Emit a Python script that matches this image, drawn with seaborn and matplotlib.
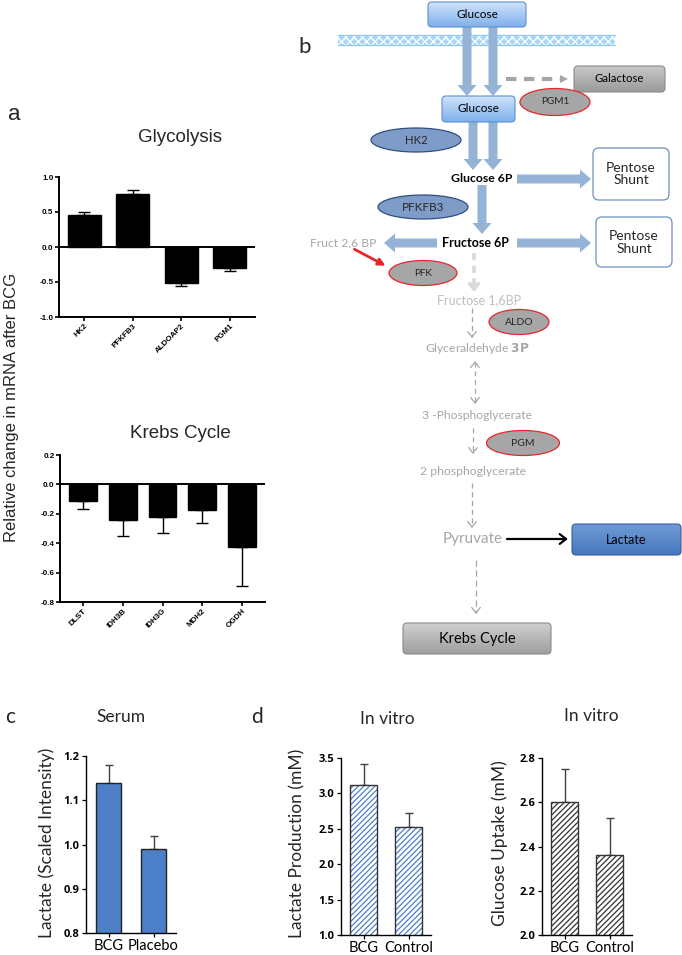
import matplotlib
matplotlib.use("Agg")
import matplotlib.pyplot as plt
import seaborn as sns
import numpy as np
from matplotlib.patches import FancyBboxPatch, Ellipse, FancyArrow, Rectangle
from matplotlib.colors import LinearSegmentedColormap

# ---- panel a: relative change in mRNA after BCG
gly_genes = ["HK2", "PFKFB3", "ALDOAP2", "PGM1"]
gly_vals = [0.45, 0.76, -0.52, -0.30]
gly_err = [0.05, 0.05, 0.04, 0.04]

krebs_genes = ["DLST", "IDH3B", "IDH3G", "MDH2", "OGDH"]
krebs_vals = [-0.115, -0.245, -0.225, -0.175, -0.425]
krebs_err = [0.055, 0.105, 0.105, 0.085, 0.265]

# ---- panel c: serum lactate
serum_groups = ["BCG", "Placebo"]
serum_vals = [1.14, 0.99]
serum_err = [0.04, 0.03]

# ---- panel d: in vitro
vitro_groups = ["BCG", "Control"]
lact_vals = [3.12, 2.52]
lact_err = [0.30, 0.21]
gluc_vals = [2.60, 2.36]
gluc_err = [0.15, 0.17]

W, H = 682, 955
sns.set_theme(style="ticks")
plt.rcParams["font.family"] = ["Liberation Sans", "DejaVu Sans"]
plt.rcParams["hatch.linewidth"] = 0.9

fig = plt.figure(figsize=(W / 100, H / 100), dpi=100)


def px_axes(x0, y0, x1, y1):
    ax = fig.add_axes([x0 / W, 1 - y1 / H, (x1 - x0) / W, (y1 - y0) / H])
    ax.set_facecolor("none")
    return ax


def ftext(x, y, s, **kw):
    kw.setdefault("ha", "center")
    kw.setdefault("va", "center")
    fig.text(x / W, 1 - y / H, s, **kw)


def one_sided_err(ax, vals, errs, color, lw, capsize):
    vals = np.asarray(vals)
    errs = np.asarray(errs)
    lo = np.where(vals < 0, errs, 0)
    hi = np.where(vals > 0, errs, 0)
    ax.errorbar(np.arange(len(vals)), vals, yerr=[lo, hi], fmt="none",
                ecolor=color, elinewidth=lw, capsize=capsize, capthick=lw, zorder=1)


# ================= diagram (panel b) =================
dg = fig.add_axes([0, 0, 1, 1])
dg.axis("off")
LATO = ["Lato", "DejaVu Sans"]
ARROW = "#95b3d7"
GREY_TXT = "#a6a6a6"


def grad_box(x0, y0, x1, y1, c_top, c_bot, edge, text, size, color="black", r=4):
    box = FancyBboxPatch((x0, y0), x1 - x0, y1 - y0,
                         boxstyle=f"round,pad=0,rounding_size={r}",
                         fc="none", ec=edge, lw=0.8, zorder=3)
    dg.add_patch(box)
    cmap = LinearSegmentedColormap.from_list("g", [c_top, c_bot])
    im = dg.imshow(np.linspace(0, 1, 60)[:, None], cmap=cmap,
                   extent=(x0, x1, y1, y0), aspect="auto", zorder=2)
    im.set_clip_path(box)
    dg.text((x0 + x1) / 2, (y0 + y1) / 2, text, ha="center", va="center",
            fontsize=size, color=color, family=LATO, zorder=4)


def white_box(x0, y0, x1, y1, text, size):
    box = FancyBboxPatch((x0, y0), x1 - x0, y1 - y0,
                         boxstyle="round,pad=0,rounding_size=6",
                         fc="white", ec="#6f8fc0", lw=0.9, zorder=3)
    dg.add_patch(box)
    dg.text((x0 + x1) / 2, (y0 + y1) / 2, text, ha="center", va="center",
            fontsize=size, family=LATO, linespacing=1.1, zorder=4)


def enzyme(cx, cy, w, h, text, size, fc, ec):
    dg.add_patch(Ellipse((cx, cy), w, h, fc=fc, ec=ec, lw=0.9, zorder=3))
    dg.text(cx, cy, text, ha="center", va="center", fontsize=size,
            family=LATO, zorder=4)


def label(x, y, s, size=8.8, color=GREY_TXT, **kw):
    dg.text(x, y, s, ha="center", va="center", fontsize=size, color=color,
            family=LATO, zorder=4, **kw)


def thick_arrow(x0, y0, x1, y1):
    dg.add_patch(FancyArrow(x0, y0, x1 - x0, y1 - y0, width=9, head_width=19,
                            head_length=11, length_includes_head=True,
                            fc=ARROW, ec="none", zorder=2))


def open_head(xe, ye, xs, ys, color, lw, size):
    ang = np.arctan2(ye - ys, xe - xs)
    for s in (1, -1):
        a = ang + np.pi + s * np.radians(38)
        dg.plot([xe, xe + size * np.cos(a)], [ye, ye + size * np.sin(a)],
                color=color, lw=lw, solid_capstyle="round", zorder=2)


def dashed_arrow(x0, y0, x1, y1, color=GREY_TXT, lw=0.9, dash=(4, 3),
                 both=False, head=7):
    dg.plot([x0, x1], [y0, y1], color=color, lw=lw, dashes=dash, zorder=2)
    if head:
        open_head(x1, y1, x0, y0, color, lw, head)
        if both:
            open_head(x0, y0, x1, y1, color, lw, head)


# membrane
dg.add_patch(Rectangle((338, 35), 277, 10, fc="#a9d6f7", ec="white",
                       lw=0, hatch="xxxx", zorder=1))
dg.plot([338, 615], [35, 35], color="#8ec8f3", lw=0.9, zorder=1)
dg.plot([338, 615], [45, 45], color="#8ec8f3", lw=0.9, zorder=1)

grad_box(428, 2, 526, 27, "#cfe3fb", "#7fb0ea", "#5d90d0", "Glucose", 8.6)
thick_arrow(467, 27, 467, 96)
thick_arrow(493, 27, 493, 96)
dashed_arrow(506, 79, 562, 79, color="#a6a6a6", lw=3, dash=(2.5, 1.8), head=0)
dg.add_patch(FancyArrow(560, 79, 8, 0, width=0.1, head_width=8, head_length=8,
                        length_includes_head=True, fc="#a6a6a6", ec="none"))
grad_box(574, 66, 665, 92, "#c8c8c8", "#9a9a9a", "#8a8a8a", "Galactose", 8.2)
enzyme(555, 102, 70, 27, "PGM1", 7.2, "#a6a6a6", "#e8262a")

grad_box(442, 96, 515, 122, "#cfe3fb", "#7fb0ea", "#5d90d0", "Glucose", 8.6)
enzyme(416, 140, 90, 24, "HK2", 8.2, "#7f9cc9", "#2f4f80")
thick_arrow(473, 122, 473, 170)
thick_arrow(493, 122, 493, 170)
label(482, 178, "Glucose 6P", size=8.8, color="black", fontweight="bold")
thick_arrow(517, 179, 591, 179)
white_box(593, 148, 669, 200, "Pentose\nShunt", 10)

enzyme(423, 207, 90, 24, "PFKFB3", 8.4, "#7f9cc9", "#2f4f80")
thick_arrow(482, 185, 482, 234)
label(343, 243, "Fruct 2,6 BP", size=8.7)
thick_arrow(437, 243, 384, 243)
label(475, 243, "Fructose 6P", size=9, color="black", fontweight="bold")
thick_arrow(517, 243, 591, 243)
white_box(596, 217, 672, 267, "Pentose\nShunt", 10)
dg.annotate("", xy=(388, 267), xytext=(352, 248),
            arrowprops=dict(arrowstyle="-|>", color="#e8262a", lw=2,
                            mutation_scale=10), zorder=3)
enzyme(423, 273, 68, 25, "PFK", 7.2, "#a6a6a6", "#e8262a")

dashed_arrow(474, 253, 474, 289, color="#d9d9d9", lw=2.6, dash=(2, 1.5), head=7)
label(479, 300, "Fructose 1,6BP", size=9, color="#bfbfbf")
enzyme(519, 322, 60, 25, "ALDO", 7.5, "#a6a6a6", "#e8262a")
dashed_arrow(472, 308, 472, 337)
label(477, 348, "Glyceraldehyde $\\mathbf{3P}$", size=8.7)
dashed_arrow(475, 362, 475, 403, both=True)
label(477, 415, "3 -Phosphoglycerate", size=8.7)
dashed_arrow(473, 428, 473, 453)
enzyme(523, 443, 73, 25, "PGM", 7.5, "#a6a6a6", "#e8262a")
label(473, 471, "2 phosphoglycerate", size=8.8)
dashed_arrow(472, 483, 472, 527)
label(473, 539, "Pyruvate", size=11)
dg.plot([507, 566], [539, 539], color="black", lw=1.6, zorder=2)
open_head(566, 539, 507, 539, "black", 1.6, 8)
grad_box(572, 524, 681, 555, "#6f9ad6", "#4677bd", "#36609c", "Lactate", 9)
dashed_arrow(476, 560, 476, 613, lw=0.9, dash=(5, 3))
grad_box(403, 623, 551, 654, "#cfcfcf", "#9f9f9f", "#8a8a8a", "Krebs Cycle", 10.5)

dg.set_xlim(0, W)
dg.set_ylim(H, 0)

# ================= panel a =================
for genes, vals, errs, box, ylim, yticks, bw, cap in [
    (gly_genes, gly_vals, gly_err, (59, 177, 255, 317), (-1.0, 1.0),
     [-1.0, -0.5, 0.0, 0.5, 1.0], 0.68, 4.5),
    (krebs_genes, krebs_vals, krebs_err, (60, 455, 265, 602), (-0.8, 0.2),
     [-0.8, -0.6, -0.4, -0.2, 0.0, 0.2], 0.7, 4),
]:
    ax = px_axes(*box)
    sns.barplot(x=genes, y=vals, color="black", saturation=1, width=bw,
                edgecolor="black", errorbar=None, ax=ax, zorder=2)
    one_sided_err(ax, vals, errs, "black", 1.0, cap)
    ax.axhline(0, color="black", lw=1.4, zorder=3)
    ax.set_ylim(*ylim)
    ax.set_yticks(yticks)
    ax.set_yticklabels([f"{t:.1f}" for t in yticks], fontsize=5.8,
                       fontweight="bold")
    ax.set_xticks(range(len(genes)))
    ax.set_xticklabels(genes, rotation=45, ha="right", rotation_mode="anchor",
                       fontsize=5.8, fontweight="bold")
    sns.despine(ax=ax)
    for sp in ("left", "bottom"):
        ax.spines[sp].set_linewidth(1.4)
        ax.spines[sp].set_color("black")
    ax.tick_params(length=3, width=1.2, pad=1, colors="black")

ftext(14, 115, "a", fontsize=16)
ftext(180, 138, "Glycolysis", fontsize=13.5)
ftext(180, 433, "Krebs Cycle", fontsize=13.5)
ftext(12, 407, "Relative change in mRNA after BCG", fontsize=12, rotation=90)
ftext(305, 47, "b", fontsize=16, family=LATO)

# ================= panels c and d =================


def small_panel(box, groups, vals, errs, ylim, yticks, style):
    ax = px_axes(*box)
    if style == "solid":
        sns.barplot(x=groups, y=vals, color="#4d7fc9", saturation=1,
                    width=0.55, edgecolor="#222222", linewidth=1.0,
                    errorbar=None, ax=ax, zorder=2)
    else:
        hatch_color = "#4d7fc9" if style == "blue" else "#333333"
        sns.barplot(x=groups, y=vals, color="white", saturation=1,
                    width=0.6, edgecolor=hatch_color, linewidth=0,
                    hatch="//////", errorbar=None, ax=ax, zorder=2)
        sns.barplot(x=groups, y=vals, color="#333333", fill=False,
                    width=0.6, linewidth=1.0, errorbar=None, ax=ax, zorder=3)
    one_sided_err(ax, vals, errs, "#404040", 1.0, 3)
    ax.set_ylim(*ylim)
    ax.set_yticks(yticks)
    ax.set_yticklabels([f"{t:.1f}" for t in yticks], fontsize=8,
                       fontweight="bold", family=["Open Sans", "DejaVu Sans"])
    ax.set_xticks(range(len(groups)))
    ax.set_xticklabels(groups, fontsize=10.5, family=LATO)
    ax.set_xlim(-0.5, 1.5)
    sns.despine(ax=ax)
    for sp in ("left", "bottom"):
        ax.spines[sp].set_linewidth(1.0)
        ax.spines[sp].set_color("black")
    ax.tick_params(length=3, width=0.9, pad=2, colors="black")
    ax.tick_params(axis="x", pad=1)
    return ax


small_panel((86, 756, 176, 933), serum_groups, serum_vals, serum_err,
            (0.8, 1.2), [0.8, 0.9, 1.0, 1.1, 1.2], "solid")
small_panel((341, 758, 431, 935), vitro_groups, lact_vals, lact_err,
            (1.0, 3.5), [1.0, 1.5, 2.0, 2.5, 3.0, 3.5], "blue")
small_panel((542, 758, 632, 935), vitro_groups, gluc_vals, gluc_err,
            (2.0, 2.8), [2.0, 2.2, 2.4, 2.6, 2.8], "black")

ftext(10, 717, "c", fontsize=15, family=LATO)
ftext(121, 717, "Serum", fontsize=12.5, family=LATO)
ftext(47, 843, "Lactate (Scaled Intensity)", fontsize=12.5, rotation=90, family=LATO)
ftext(257, 717, "d", fontsize=15, family=LATO)
ftext(387, 719, "In vitro", fontsize=12.5, family=LATO)
ftext(297, 843, "Lactate Production (mM)", fontsize=12.5, rotation=90, family=LATO)
ftext(591, 716, "In vitro", fontsize=12.5, family=LATO)
ftext(500, 843, "Glucose Uptake (mM)", fontsize=12.5, rotation=90, family=LATO)

fig.savefig("out.png", dpi=100)
